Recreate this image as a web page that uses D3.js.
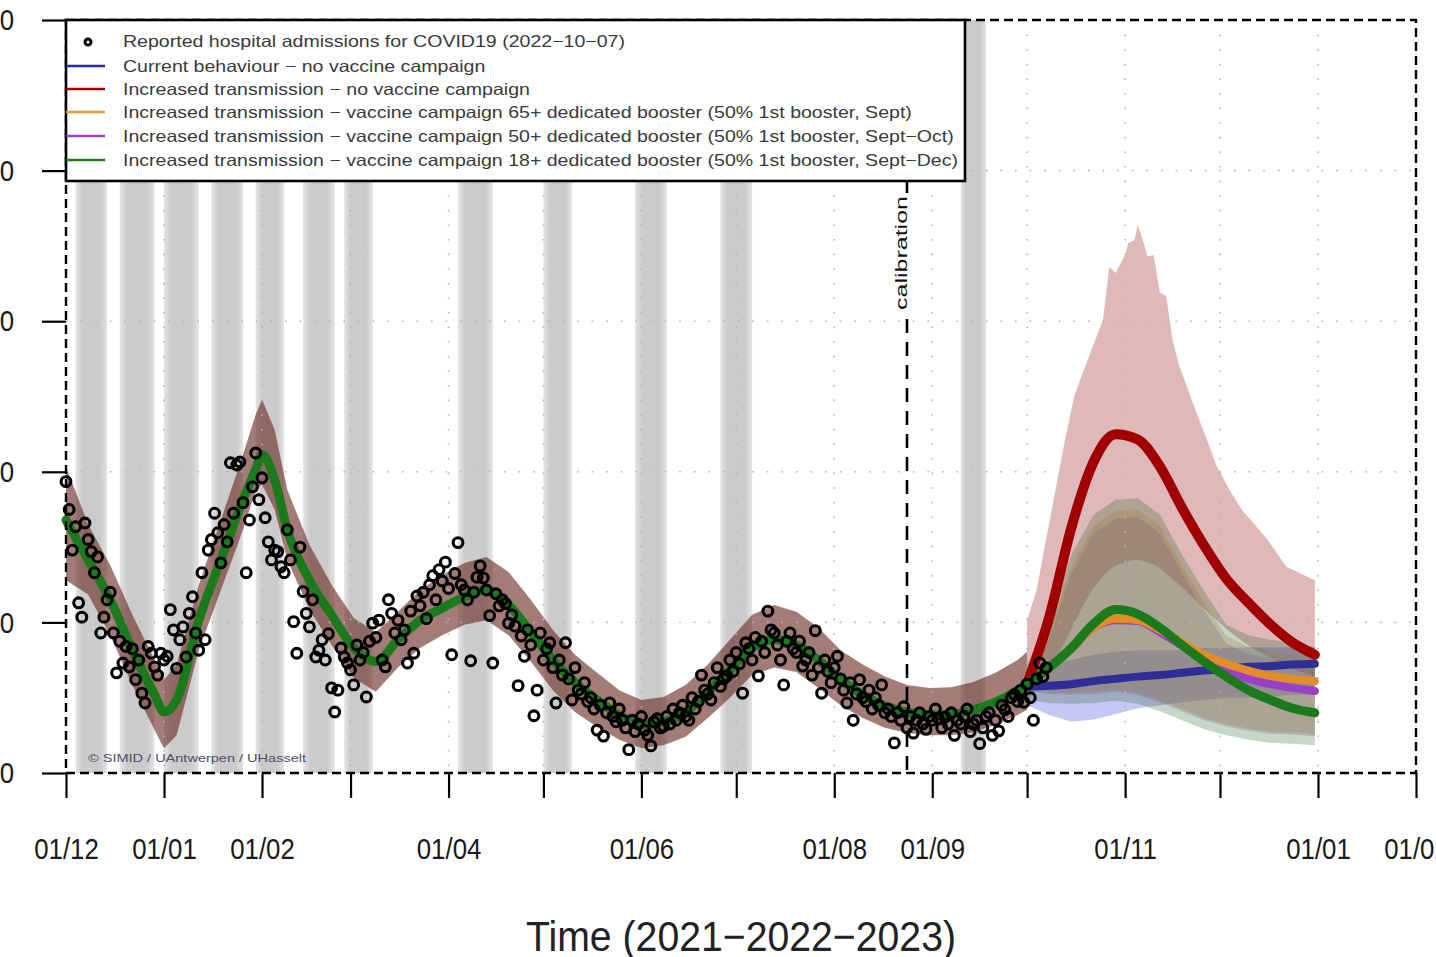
<!DOCTYPE html>
<html>
<head>
<meta charset="utf-8">
<script src="https://cdn.jsdelivr.net/npm/d3@7"></script>
<style>
body { margin: 0; background: #fff; }
svg { display: block; font-family: "Liberation Sans", Arial, sans-serif; }
</style>
</head>
<body>
<svg id="chart" width="1436" height="957"></svg>
<script>
// ---- data (days counted from 1 Dec 2021) ----
var admissions = [
  387, 350, 296, 327, 226, 207, 332, 310, 294, 266,
  287, 186, 207, 230, 240, 186, 133, 175, 146, 168,
  141, 165, 124, 150, 106, 93, 168, 159, 141, 130,
  159, 150, 155, 217, 190, 139, 177, 194, 154, 212,
  234, 186, 163, 266, 177, 296, 310, 345, 319, 279,
  330, 307, 412, 345, 409, 413, 359, 266, 336, 380,
  425, 363, 392, 339, 307, 283, 296, 294, 274, 266,
  323, 283, 201, 159, 300, 241, 212, 194, 230, 154,
  163, 177, 150, 185, 113, 81, 110, 166, 154, 146,
  137, 117, 170, 150, 160, 101, 175, 199, 180, 203,
  150, 141, 230, 212, 186, 203, 177, 190, 146, 215,
  159, 235, 222, 240, 205, 250, 262, 230, 270, 255,
  280, 245, 157, 265, 306, 250, 243, 230, 149, 240,
  260, 275, 259, 243, 209, 146, 238, 222, 230, 225,
  199, 210, 195, 116, 182, 155, 190, 170, 76, 110,
  186, 150, 165, 173, 140, 93, 150, 130, 173, 125,
  97, 140, 110, 105, 120, 95, 100, 85, 57, 90,
  49, 80, 93, 75, 68, 85, 70, 60, 31, 70,
  55, 65, 75, 57, 50, 36, 68, 72, 60, 62,
  75, 65, 85, 70, 80, 90, 75, 70, 100, 85,
  95, 130, 110, 105, 97, 120, 140, 115, 125, 129,
  150, 135, 160, 145, 106, 173, 165, 150, 180, 129,
  175, 160, 215, 190, 186, 170, 150, 117, 175, 186,
  165, 160, 175, 142, 150, 160, 130, 189, 140, 106,
  150, 135, 120, 140, 155, 125, 110, 93, 120, 70,
  105, 124, 100, 95, 110, 85, 100, 90, 117, 80,
  85, 75, 40, 80, 70, 88, 60, 75, 53, 70,
  80, 65, 58, 75, 70, 85, 72, 60, 74, 65,
  80, 50, 70, 65, 75, 85, 55, 65, 70, 39,
  60, 75, 80, 50, 70, 56, 90, 84, 75, 100,
  104, 95, 110, 94, 118, 100, 70, 125, 146, 128, 140
];

// calibrated model (all scenarios identical before October)
var fitDays = [0, 7, 14, 21, 28, 31, 35, 42, 49, 56, 60, 62, 66, 70, 77, 84, 91, 98, 105, 112,
  119, 126, 133, 140, 147, 154, 161, 168, 175, 182, 189, 196, 203, 210, 217, 224, 231, 238, 245, 252,
  259, 266, 273, 280, 287, 294, 301, 304];
var fitMid = [336, 283, 230, 163, 104, 81, 97, 203, 283, 363, 403, 423, 389, 323, 256, 210, 166, 148, 177, 203,
  219, 234, 243, 223, 187, 150, 120, 97, 77, 64, 68, 81, 108, 137, 166, 177, 170, 150, 124, 104,
  89, 81, 77, 78, 84, 94, 110, 118];
var fitHigh = [407, 330, 276, 210, 150, 124, 144, 250, 336, 423, 476, 496, 456, 376, 303, 250, 206, 187, 214, 243,
  263, 279, 287, 267, 230, 190, 157, 133, 110, 97, 101, 117, 144, 177, 210, 223, 214, 193, 163, 144,
  128, 117, 113, 114, 121, 133, 150, 161];
var fitLow = [256, 237, 183, 117, 57, 33, 50, 163, 243, 323, 376, 383, 350, 283, 217, 170, 126, 108, 140, 166,
  183, 197, 203, 183, 148, 110, 81, 61, 44, 33, 37, 48, 73, 100, 130, 140, 134, 113, 90, 73,
  60, 53, 50, 50, 54, 64, 77, 84];

// scenario projections
var scenDays = [304, 311, 318, 325, 332, 339, 346, 353, 360, 367, 374, 381, 388, 395];
var blueMid   = [115, 116, 118, 122, 125, 128, 130, 133, 136, 138, 141, 142, 144, 145];
var redMid    = [118, 207, 326, 413, 450, 443, 407, 352, 302, 258, 226, 197, 173, 157];
var orangeMid = [118, 140, 165, 193, 205, 203, 190, 173, 157, 145, 136, 129, 125, 122];
var purpleMid = [118, 140, 165, 193, 203, 202, 187, 169, 150, 136, 125, 118, 113, 109];
var greenMid  = [118, 140, 166, 198, 217, 211, 193, 170, 148, 128, 110, 97, 86, 80];

var blueHigh   = [124, 144, 150, 157, 161, 163, 163, 163, 166, 166, 167, 167, 167, 167];
var blueLow    = [90, 77, 68, 71, 78, 86, 90, 94, 97, 100, 100, 102, 104, 104];
var orangeHigh = [129, 188, 275, 328, 348, 350, 328, 275, 226, 182, 168, 162, 158, 152];
var orangeLow  = [112, 108, 107, 108, 111, 107, 97, 85, 73, 65, 59, 55, 54, 52];
var purpleHigh = [119, 178, 265, 318, 338, 340, 318, 265, 216, 172, 158, 152, 148, 142];
var purpleLow  = [109, 105, 104, 105, 108, 104, 94, 82, 70, 62, 56, 52, 51, 49];
var greenHigh  = [144, 203, 290, 343, 363, 365, 343, 290, 241, 197, 183, 177, 173, 167];
var greenLow   = [97, 93, 92, 93, 96, 92, 82, 70, 58, 50, 44, 40, 39, 37];

var redBandDays = [304, 307, 310, 313, 316, 319, 322, 325, 328, 330, 332, 335, 336, 338, 339, 341, 342, 344,
  346, 348, 350, 352, 356, 360, 364, 368, 372, 376, 380, 386, 390, 395];
var redHigh = [203, 243, 310, 376, 443, 502, 536, 569, 602, 672, 664, 688, 704, 708, 728, 702, 686, 688,
  638, 633, 575, 542, 496, 452, 407, 376, 349, 330, 310, 274, 266, 256];
var redLow = [95, 110, 130, 150, 175, 200, 225, 245, 262, 270, 275, 280, 282, 283, 283, 282, 280, 277,
  272, 265, 258, 250, 235, 218, 203, 188, 175, 164, 155, 143, 135, 128];

// grey periods
var holidays = [
  ["2021-12-04", "2021-12-14"], ["2021-12-18", "2021-12-29"], ["2022-01-01", "2022-01-12"],
  ["2022-01-16", "2022-01-26"], ["2022-01-30", "2022-02-08"], ["2022-02-14", "2022-02-24"],
  ["2022-02-27", "2022-03-08"], ["2022-04-04", "2022-04-15"], ["2022-05-01", "2022-05-10"],
  ["2022-05-30", "2022-06-09"], ["2022-06-26", "2022-07-06"], ["2022-09-10", "2022-09-18"]
];
var calibrationDate = "2022-08-24";

var yTicks = [0, 200, 400, 600, 800, 1000];
var tickLabels = ["01/12", "01/01", "01/02", "", "01/04", "", "01/06", "", "01/08", "01/09", "", "01/11", "", "01/01", "01/02"];

var legendLabels = [
  "Reported hospital admissions for COVID19 (2022\u221210\u221207)",
  "Current behaviour \u2212 no vaccine campaign",
  "Increased transmission \u2212 no vaccine campaign",
  "Increased transmission \u2212 vaccine campaign 65+ dedicated booster (50% 1st booster, Sept)",
  "Increased transmission \u2212 vaccine campaign 50+ dedicated booster (50% 1st booster, Sept\u2212Oct)",
  "Increased transmission \u2212 vaccine campaign 18+ dedicated booster (50% 1st booster, Sept\u2212Dec)"
];
var legendColors = [null, "#2a2aa0", "#a50000", "#eb9a2e", "#a040c8", "#1e7b1e"];

// ---- drawing ----
var svg = d3.select('#chart');
var width = +svg.attr('width');
var height = +svg.attr('height');
var plotL = 66, plotR = 1416, plotT = 20, plotB = 773;

svg.append('rect').attr('width', width).attr('height', height).attr('fill', '#fff');

var parse = d3.timeParse('%Y-%m-%d');
var day0 = parse('2021-12-01');
function dayDate(d) { return d3.timeDay.offset(day0, d); }

var x = d3.scaleTime().domain([day0, parse('2023-02-01')]).range([plotL, plotR]);
var y = d3.scaleLinear().domain([0, 1000]).range([plotB, plotT]);

// squeeze text horizontally (the original output is narrower than Arial)
function squeeze(sel, k) {
  sel.each(function () {
    if (!this.textContent) return;
    var l = this.getComputedTextLength();
    d3.select(this).attr('textLength', l * k).attr('lengthAdjust', 'spacingAndGlyphs');
  });
}

var defs = svg.append('defs');
var grad = defs.append('linearGradient').attr('id', 'hol').attr('x1', 0).attr('x2', 1).attr('y1', 0).attr('y2', 0);
grad.append('stop').attr('offset', '0%').attr('stop-color', '#e4e4e4');
grad.append('stop').attr('offset', '22%').attr('stop-color', '#cbcbcb');
grad.append('stop').attr('offset', '78%').attr('stop-color', '#cbcbcb');
grad.append('stop').attr('offset', '100%').attr('stop-color', '#e4e4e4');

// grey periods
svg.append('g').selectAll('rect')
  .data(holidays)
  .enter()
  .append('rect')
  .attr('x', function (d) { return x(parse(d[0])); })
  .attr('width', function (d) { return x(parse(d[1])) - x(parse(d[0])); })
  .attr('y', plotT)
  .attr('height', plotB - plotT)
  .attr('fill', 'url(#hol)');

// uncertainty bands
function band(days, lo, hi) {
  return days.map(function (d, i) { return { date: dayDate(d), lo: lo[i], hi: hi[i] }; });
}
var area = d3.area()
  .x(function (d) { return x(d.date); })
  .y0(function (d) { return y(d.lo); })
  .y1(function (d) { return y(d.hi); });

var bandG = svg.append('g');
bandG.append('path').attr('d', area(band(fitDays, fitLow, fitHigh))).attr('fill', 'rgba(106,44,36,0.62)');
bandG.append('path').attr('d', area(band(redBandDays, redLow, redHigh))).attr('fill', 'rgba(150,20,20,0.3)');
bandG.append('path').attr('d', area(band(scenDays, blueLow, blueHigh))).attr('fill', 'rgba(70,70,220,0.3)');
bandG.append('path').attr('d', area(band(scenDays, purpleLow, purpleHigh))).attr('fill', 'rgba(130,70,170,0.26)');
bandG.append('path').attr('d', area(band(scenDays, orangeLow, orangeHigh))).attr('fill', 'rgba(200,130,60,0.28)');
bandG.append('path').attr('d', area(band(scenDays, greenLow, greenHigh))).attr('fill', 'rgba(40,100,40,0.26)');

// dotted grid
var monthTicks = d3.timeMonth.range(day0, d3.timeDay.offset(parse('2023-02-01'), 1));
var grid = svg.append('g').attr('stroke', '#b4b4b4').attr('stroke-width', 1.6).attr('stroke-dasharray', '1.6,13');
grid.selectAll('.gy')
  .data(yTicks.slice(1, -1))
  .enter()
  .append('line')
  .attr('x1', plotL).attr('x2', plotR)
  .attr('y1', function (d) { return y(d); })
  .attr('y2', function (d) { return y(d); });
grid.selectAll('.gx')
  .data(monthTicks.slice(1, -1))
  .enter()
  .append('line')
  .attr('y1', plotT).attr('y2', plotB)
  .attr('x1', function (d) { return x(d); })
  .attr('x2', function (d) { return x(d); });

// model lines
var line = d3.line()
  .x(function (d) { return x(d.date); })
  .y(function (d) { return y(d.v); })
  .curve(d3.curveMonotoneX);
function series(days, vals) {
  return days.map(function (d, i) { return { date: dayDate(d), v: vals[i] }; });
}
var lineG = svg.append('g').attr('fill', 'none').attr('stroke-linejoin', 'round').attr('stroke-linecap', 'round');
lineG.append('path').attr('d', line(series(fitDays, fitMid))).attr('stroke', '#1b7a1b').attr('stroke-width', 9);
lineG.append('path').attr('d', line(series(scenDays, blueMid))).attr('stroke', '#2e2e96').attr('stroke-width', 8);
lineG.append('path').attr('d', line(series(scenDays, purpleMid))).attr('stroke', '#9a3fc6').attr('stroke-width', 8);
lineG.append('path').attr('d', line(series(scenDays, orangeMid))).attr('stroke', '#e58c2a').attr('stroke-width', 8);
lineG.append('path').attr('d', line(series(scenDays, redMid))).attr('stroke', '#a00000').attr('stroke-width', 10);
lineG.append('path').attr('d', line(series(scenDays, greenMid))).attr('stroke', '#1b7a1b').attr('stroke-width', 9);

// calibration marker
var xc = x(parse(calibrationDate));
svg.append('line')
  .attr('x1', xc).attr('x2', xc).attr('y1', plotT).attr('y2', plotB)
  .attr('stroke', '#000').attr('stroke-width', 2.6).attr('stroke-dasharray', '14,9');
var calG = svg.append('g').attr('transform', 'translate(' + (xc - 6) + ',253) rotate(-90)');
calG.append('rect').attr('x', -60).attr('y', -11).attr('width', 120).attr('height', 21).attr('fill', '#fff');
calG.append('text')
  .attr('text-anchor', 'middle').attr('dy', '0.35em')
  .attr('font-size', 17).attr('fill', '#111')
  .attr('textLength', 114).attr('lengthAdjust', 'spacingAndGlyphs')
  .text('calibration');

// reported admissions
svg.append('g').selectAll('circle')
  .data(admissions)
  .enter()
  .append('circle')
  .attr('cx', function (d, i) { return x(dayDate(i)); })
  .attr('cy', function (d) { return y(d); })
  .attr('r', 4.9)
  .attr('fill', 'none')
  .attr('stroke', '#000')
  .attr('stroke-width', 3.1);

// watermark
svg.append('text')
  .attr('x', 88).attr('y', 762)
  .attr('font-size', 11.5).attr('fill', '#4a4f6a')
  .attr('textLength', 218).attr('lengthAdjust', 'spacingAndGlyphs')
  .text('\u00a9 SIMID / UAntwerpen / UHasselt');

// frame
svg.append('rect')
  .attr('x', plotL).attr('y', plotT)
  .attr('width', plotR - plotL).attr('height', plotB - plotT)
  .attr('fill', 'none').attr('stroke', '#000').attr('stroke-width', 2.4)
  .attr('stroke-dasharray', '9,5');

// axes
var xAxis = svg.append('g')
  .attr('transform', 'translate(0,' + plotB + ')')
  .call(d3.axisBottom(x).tickValues(monthTicks).tickSize(25).tickPadding(40)
    .tickFormat(function (d, i) { return tickLabels[i]; }));
xAxis.select('.domain').remove();
xAxis.selectAll('line').attr('stroke', '#000').attr('stroke-width', 2.2);
xAxis.selectAll('text').attr('font-size', 30).attr('fill', '#1a1a1a').attr('font-family', null);
squeeze(xAxis.selectAll('text'), 0.86);

var yAxis = svg.append('g')
  .attr('transform', 'translate(' + plotL + ',0)')
  .call(d3.axisLeft(y).tickValues(yTicks).tickSize(24).tickPadding(28));
yAxis.select('.domain').remove();
yAxis.selectAll('line').attr('stroke', '#000').attr('stroke-width', 2.2);
yAxis.selectAll('text').attr('font-size', 30).attr('fill', '#1a1a1a').attr('font-family', null);
squeeze(yAxis.selectAll('text'), 0.86);

svg.append('text')
  .attr('x', (plotL + plotR) / 2).attr('y', 951)
  .attr('text-anchor', 'middle')
  .attr('font-size', 42).attr('fill', '#222')
  .attr('textLength', 430).attr('lengthAdjust', 'spacingAndGlyphs')
  .text('Time (2021\u22122022\u22122023)');

// legend
var legend = svg.append('g');
legend.append('rect')
  .attr('x', plotL).attr('y', plotT)
  .attr('width', 899).attr('height', 161)
  .attr('fill', '#fff').attr('stroke', '#000').attr('stroke-width', 2.6);
var rowY = [41, 66, 89, 112, 136, 160];
var rows = legend.selectAll('.row')
  .data(legendLabels)
  .enter()
  .append('g')
  .attr('transform', function (d, i) { return 'translate(0,' + rowY[i] + ')'; });
rows.each(function (d, i) {
  var g = d3.select(this);
  if (legendColors[i]) {
    g.append('line').attr('x1', plotL).attr('x2', 105).attr('stroke', legendColors[i]).attr('stroke-width', 2.6);
  } else {
    g.append('circle').attr('cx', 88).attr('cy', 1).attr('r', 3).attr('fill', 'none')
      .attr('stroke', '#000').attr('stroke-width', 3);
  }
});
var legendText = rows.append('text')
  .attr('x', 123).attr('dy', '0.35em')
  .attr('font-size', 16.5).attr('fill', '#3a3a3a')
  .text(function (d) { return d; });
var widest = legendText.nodes()[5].getComputedTextLength();
squeeze(legendText, 835 / widest);
</script>
</body>
</html>
